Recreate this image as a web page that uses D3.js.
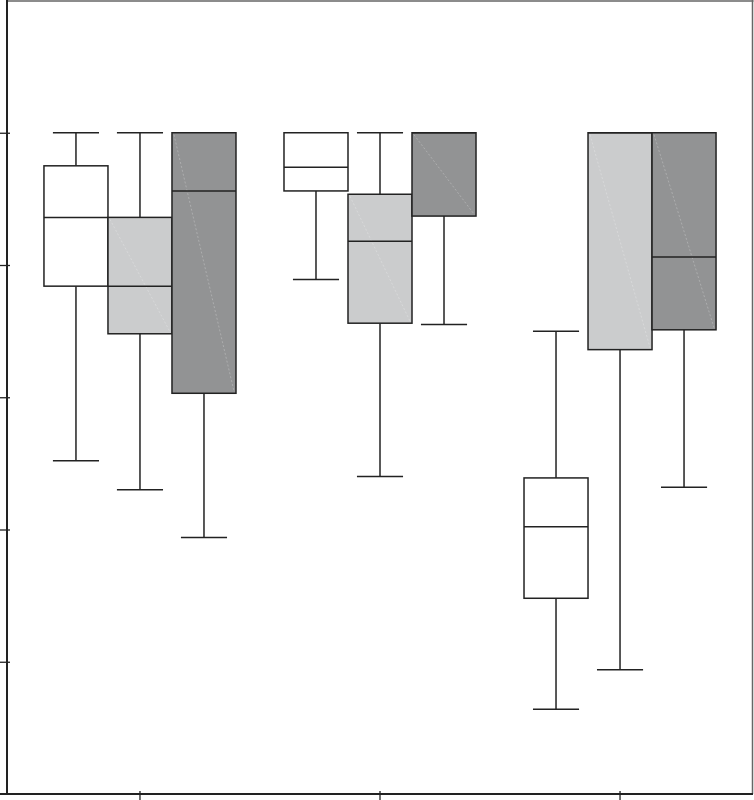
<!DOCTYPE html>
<html lang="en">
<head>
    <meta charset="UTF-8">
    <title>Box plot</title>
    <script src="https://d3js.org/d3.v7.min.js"></script>
    <style>
        body { margin: 0; background: #fff; }
        svg { display: block; }
    </style>
</head>
<body>
<script>
    // groups along x, three series inside each group
    const groups = ["G1", "G2", "G3"];
    const series = ["S1", "S2", "S3"];
    const fills = ["#ffffff", "#cbcccd", "#929394"];

    // box statistics, one row per group, one value per series
    const whiskerLow  = [[2.52, 2.30, 1.94], [3.89, 2.40, 3.55], [0.64, 0.94, 2.32]];
    const q1          = [[3.84, 3.48, 3.03], [4.56, 3.56, 4.37], [1.48, 3.36, 3.51]];
    const median      = [[4.36, 3.84, 4.56], [4.74, 4.18, 5.00], [2.02, 5.00, 4.06]];
    const q3          = [[4.75, 4.36, 5.00], [5.00, 4.535, 5.00], [2.39, 5.00, 5.00]];
    const whiskerHigh = [[5.00, 5.00, 5.00], [5.00, 5.00, 5.00], [3.50, 5.00, 5.00]];

    const yTicks = [1, 2, 3, 4, 5];

    const width = 754, height = 800;
    const plotLeft = 7, plotRight = 753, plotTop = 0.5, plotBottom = 794;

    const svg = d3.select("body").append("svg")
        .attr("width", width)
        .attr("height", height);

    const y = d3.scaleLinear().domain([0, 6]).range([plotBottom, plotTop]);

    const x0 = d3.scaleBand().domain(groups).range([plotLeft, plotRight])
        .paddingInner(0).paddingOuter(0.054);
    const x1 = d3.scaleBand().domain(series).range([0, x0.bandwidth()])
        .paddingInner(0).paddingOuter(0.375);

    // build flat rows for drawing
    const rows = [];
    groups.forEach((g, gi) => {
        series.forEach((s, si) => {
            rows.push({
                g, s, si,
                lo: whiskerLow[gi][si], q1: q1[gi][si], med: median[gi][si],
                q3: q3[gi][si], hi: whiskerHigh[gi][si]
            });
        });
    });

    const bw = x1.bandwidth();
    const cx = d => x0(d.g) + x1(d.s) + bw / 2;
    const capHalf = bw * 0.36;
    const ink = "#222";

    // frame top / right
    svg.append("line").attr("x1", plotLeft).attr("x2", plotRight + 0.5).attr("y1", 1).attr("y2", 1)
        .attr("stroke", "#666").attr("stroke-width", 1.5);
    svg.append("line").attr("x1", plotRight - 0.5).attr("x2", plotRight - 0.5).attr("y1", 0).attr("y2", plotBottom)
        .attr("stroke", "#666").attr("stroke-width", 1.5);

    const box = svg.append("g").selectAll("g").data(rows).join("g");

    // whiskers
    box.append("line")
        .attr("x1", cx).attr("x2", cx)
        .attr("y1", d => y(d.q3)).attr("y2", d => y(d.hi))
        .attr("stroke", ink).attr("stroke-width", 1.5);
    box.append("line")
        .attr("x1", cx).attr("x2", cx)
        .attr("y1", d => y(d.q1)).attr("y2", d => y(d.lo))
        .attr("stroke", ink).attr("stroke-width", 1.5);

    // caps
    box.append("line")
        .attr("x1", d => cx(d) - capHalf).attr("x2", d => cx(d) + capHalf)
        .attr("y1", d => y(d.hi)).attr("y2", d => y(d.hi))
        .attr("stroke", ink).attr("stroke-width", 1.5);
    box.append("line")
        .attr("x1", d => cx(d) - capHalf).attr("x2", d => cx(d) + capHalf)
        .attr("y1", d => y(d.lo)).attr("y2", d => y(d.lo))
        .attr("stroke", ink).attr("stroke-width", 1.5);

    // boxes
    box.append("rect")
        .attr("x", d => cx(d) - bw / 2)
        .attr("width", bw)
        .attr("y", d => y(d.q3))
        .attr("height", d => y(d.q1) - y(d.q3))
        .attr("fill", d => fills[d.si])
        .attr("stroke", ink).attr("stroke-width", 1.5);

    // faint diagonal sheen in the filled boxes
    box.filter(d => d.si > 0).append("line")
        .attr("x1", d => cx(d) - bw / 2 + 2).attr("y1", d => y(d.q3) + 2)
        .attr("x2", d => cx(d) + bw / 2 - 2).attr("y2", d => y(d.q1) - 2)
        .attr("stroke", "#fff").attr("stroke-opacity", 0.3)
        .attr("stroke-width", 0.8).attr("stroke-dasharray", "2,2");

    // medians
    box.append("line")
        .attr("x1", d => cx(d) - bw / 2).attr("x2", d => cx(d) + bw / 2)
        .attr("y1", d => y(d.med)).attr("y2", d => y(d.med))
        .attr("stroke", ink).attr("stroke-width", 1.5);

    // axes
    const yAxis = svg.append("g")
        .attr("transform", `translate(${plotLeft},0)`)
        .call(d3.axisLeft(y).tickValues(yTicks).tickFormat("").tickSize(7).tickSizeOuter(0));
    yAxis.selectAll(".tick line").attr("x1", 3).attr("stroke", ink).attr("stroke-width", 1.3);
    yAxis.select(".domain").attr("d", `M0,0V${plotBottom}`).attr("stroke", ink).attr("stroke-width", 2);

    const xAxis = svg.append("g")
        .attr("transform", `translate(0,${plotBottom})`)
        .call(d3.axisBottom(x0).tickFormat("").tickSize(6).tickSizeOuter(0));
    xAxis.selectAll(".tick line").attr("y1", -3).attr("stroke", ink).attr("stroke-width", 1.3);
    xAxis.select(".domain").attr("d", `M0,0H${plotRight}`).attr("stroke", ink).attr("stroke-width", 2);
</script>
</body>
</html>
